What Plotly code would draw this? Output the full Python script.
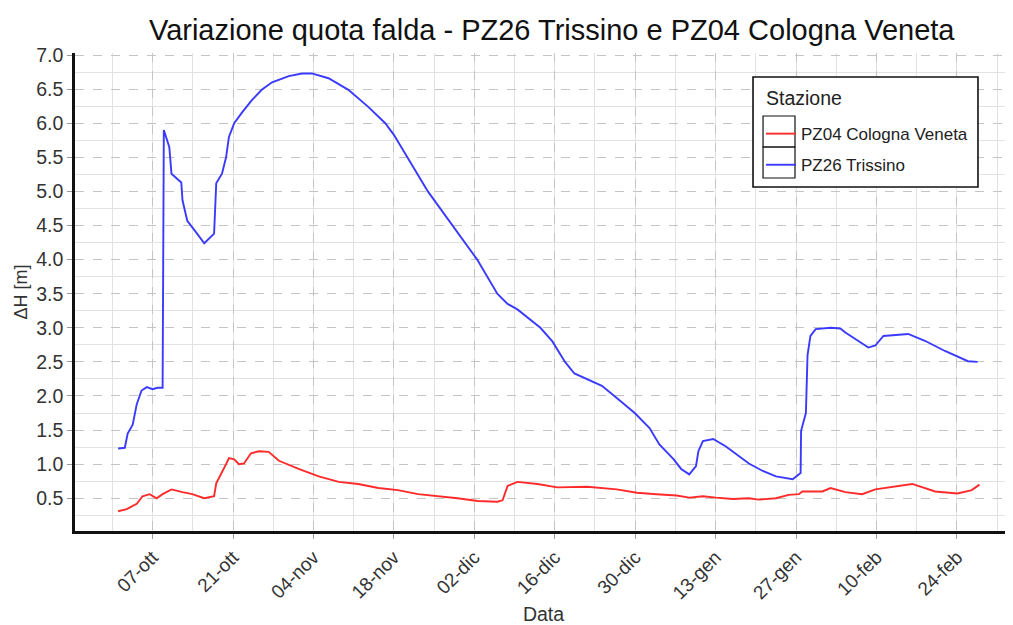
import plotly.graph_objects as go

# ---- data ----
blue_dates = [
    "2023-10-01 00:00", "2023-10-02 04:00", "2023-10-02 16:00", "2023-10-03 13:00", "2023-10-04 06:00",
    "2023-10-05 02:00", "2023-10-06 00:00", "2023-10-07 00:00", "2023-10-07 21:00", "2023-10-08 18:00",
    "2023-10-08 23:00", "2023-10-09 22:00", "2023-10-10 07:00", "2023-10-12 00:00", "2023-10-12 05:00",
    "2023-10-13 01:00", "2023-10-14 14:00", "2023-10-15 16:00", "2023-10-16 00:00", "2023-10-17 17:00",
    "2023-10-18 02:00", "2023-10-19 02:00", "2023-10-19 19:00", "2023-10-20 07:00", "2023-10-21 05:00",
    "2023-10-22 14:00", "2023-10-24 07:00", "2023-10-26 00:00", "2023-10-27 19:00", "2023-10-30 17:00",
    "2023-11-02 00:00", "2023-11-03 17:00", "2023-11-06 15:00", "2023-11-10 02:00", "2023-11-13 13:00",
    "2023-11-16 12:00", "2023-11-18 00:00", "2023-11-23 22:00", "2023-11-28 05:00", "2023-12-02 12:00",
    "2023-12-06 00:00", "2023-12-07 19:00", "2023-12-09 12:00", "2023-12-11 05:00", "2023-12-13 12:00",
    "2023-12-15 14:00", "2023-12-17 19:00", "2023-12-19 10:00", "2023-12-21 15:00", "2023-12-24 05:00",
    "2023-12-26 19:00", "2023-12-29 22:00", "2024-01-01 12:00", "2024-01-03 05:00", "2024-01-05 17:00",
    "2024-01-07 00:00", "2024-01-08 10:00", "2024-01-09 14:00", "2024-01-10 00:00", "2024-01-10 19:00",
    "2024-01-12 14:00", "2024-01-14 19:00", "2024-01-18 19:00", "2024-01-21 05:00", "2024-01-23 12:00",
    "2024-01-26 10:00", "2024-01-27 19:00", "2024-01-27 21:00", "2024-01-28 17:00", "2024-01-29 00:00",
    "2024-01-29 12:00", "2024-01-30 10:00", "2024-02-02 00:00", "2024-02-03 17:00", "2024-02-04 14:00",
    "2024-02-08 14:00", "2024-02-09 19:00", "2024-02-11 05:00", "2024-02-15 12:00", "2024-02-18 10:00",
    "2024-02-21 22:00", "2024-02-25 22:00", "2024-02-27 14:00",
]
blue_values = [
    1.23, 1.24, 1.45, 1.58, 1.88,
    2.08, 2.13, 2.10, 2.12, 2.12,
    5.90, 5.65, 5.26, 5.13, 4.87,
    4.57, 4.40, 4.28, 4.24, 4.38,
    5.12, 5.26, 5.50, 5.80, 6.00,
    6.16, 6.34, 6.49, 6.60, 6.69,
    6.73, 6.73, 6.66, 6.49, 6.24,
    6.00, 5.83, 5.00, 4.50, 4.00,
    3.50, 3.35, 3.27, 3.15, 3.00,
    2.80, 2.50, 2.33, 2.25, 2.15,
    1.97, 1.75, 1.53, 1.29, 1.07,
    0.93, 0.85, 0.97, 1.19, 1.34,
    1.37, 1.26, 1.01, 0.90, 0.82,
    0.78, 0.87, 1.49, 1.75, 2.60,
    2.88, 2.98, 3.00, 2.99, 2.93,
    2.71, 2.74, 2.88, 2.91, 2.81,
    2.66, 2.51, 2.50,
]

red_dates = [
    "2023-10-01 00:00", "2023-10-02 12:00", "2023-10-04 06:00", "2023-10-05 06:00", "2023-10-06 12:00",
    "2023-10-07 17:00", "2023-10-08 18:00", "2023-10-10 07:00", "2023-10-12 05:00", "2023-10-13 22:00",
    "2023-10-16 00:00", "2023-10-17 17:00", "2023-10-18 02:00", "2023-10-18 22:00", "2023-10-19 19:00",
    "2023-10-20 07:00", "2023-10-21 05:00", "2023-10-22 01:00", "2023-10-22 22:00", "2023-10-24 03:00",
    "2023-10-25 12:00", "2023-10-27 05:00", "2023-10-29 00:00", "2023-11-01 10:00", "2023-11-04 22:00",
    "2023-11-08 10:00", "2023-11-11 19:00", "2023-11-15 07:00", "2023-11-18 17:00", "2023-11-22 05:00",
    "2023-11-25 17:00", "2023-11-29 02:00", "2023-12-02 14:00", "2023-12-06 00:00", "2023-12-06 22:00",
    "2023-12-07 19:00", "2023-12-09 12:00", "2023-12-13 00:00", "2023-12-16 10:00", "2023-12-21 15:00",
    "2023-12-26 19:00", "2023-12-30 07:00", "2024-01-02 17:00", "2024-01-06 05:00", "2024-01-08 10:00",
    "2024-01-10 19:00", "2024-01-13 02:00", "2024-01-16 00:00", "2024-01-18 19:00", "2024-01-20 12:00",
    "2024-01-23 12:00", "2024-01-25 17:00", "2024-01-27 12:00", "2024-01-28 02:00", "2024-01-31 14:00",
    "2024-02-02 00:00", "2024-02-04 14:00", "2024-02-07 12:00", "2024-02-09 19:00", "2024-02-16 05:00",
    "2024-02-20 05:00", "2024-02-24 02:00", "2024-02-26 14:00", "2024-02-27 22:00",
]
red_values = [
    0.31, 0.34, 0.42, 0.53, 0.56,
    0.50, 0.56, 0.63, 0.59, 0.56,
    0.50, 0.53, 0.72, 0.85, 1.00,
    1.09, 1.07, 1.00, 1.01, 1.16,
    1.19, 1.18, 1.05, 0.93, 0.82,
    0.74, 0.71, 0.65, 0.62, 0.56,
    0.53, 0.50, 0.46, 0.45, 0.47,
    0.68, 0.74, 0.71, 0.66, 0.67,
    0.63, 0.58, 0.56, 0.54, 0.51,
    0.53, 0.51, 0.49, 0.50, 0.48,
    0.50, 0.55, 0.56, 0.60, 0.60,
    0.65, 0.59, 0.56, 0.63, 0.71,
    0.60, 0.57, 0.62, 0.70,
]

x_tick_vals = ["2023-10-07", "2023-10-21", "2023-11-04", "2023-11-18", "2023-12-02",
               "2023-12-16", "2023-12-30", "2024-01-13", "2024-01-27", "2024-02-10", "2024-02-24"]
x_tick_text = ["07-ott", "21-ott", "04-nov", "18-nov", "02-dic",
               "16-dic", "30-dic", "13-gen", "27-gen", "10-feb", "24-feb"]

series_names = ["PZ04 Cologna Veneta", "PZ26 Trissino"]
legend_title = "Stazione"

# ---- figure ----
fig = go.Figure()
fig.add_trace(go.Scatter(x=red_dates, y=red_values, mode="lines", name=series_names[0],
                         legendgroup="a", line=dict(color="#ff2a2a", width=1.9)))
fig.add_trace(go.Scatter(x=blue_dates, y=blue_values, mode="lines", name=series_names[1],
                         legendgroup="b", line=dict(color="#3a3aff", width=1.9)))

font_family = "Liberation Sans, Arial, sans-serif"
DAY = 86400000

# legend frame and key boxes (ggplot-style), drawn as paper shapes
legend_shapes = [
    dict(type="rect", xref="paper", yref="paper", x0=0.7236, x1=0.9637, y0=0.7197, y1=0.9498,
         line=dict(color="#111111", width=1.6), fillcolor="white", layer="above"),
    dict(type="rect", xref="paper", yref="paper", x0=0.7343, x1=0.7684, y0=0.8033, y1=0.8682,
         line=dict(color="#111111", width=1.2), fillcolor="rgba(0,0,0,0)", layer="above"),
    dict(type="rect", xref="paper", yref="paper", x0=0.7343, x1=0.7684, y0=0.7385, y1=0.8033,
         line=dict(color="#111111", width=1.2), fillcolor="rgba(0,0,0,0)", layer="above"),
]

fig.update_layout(
    width=1005, height=617,
    margin=dict(l=67, r=1, t=45, b=94),
    paper_bgcolor="white", plot_bgcolor="white",
    font=dict(family=font_family, color="#333333"),
    title=dict(text="Variazione quota falda - PZ26 Trissino e PZ04 Cologna Veneta",
               x=0.541, xanchor="center", y=0.965, yanchor="middle",
               font=dict(size=29, color="#111111", family=font_family)),
    legend=dict(
        x=0.7321, y=0.868, xanchor="left", yanchor="top",
        bgcolor="rgba(0,0,0,0)", borderwidth=0,
        font=dict(size=17, color="#222222"),
        tracegroupgap=6,
    ),
    shapes=legend_shapes,
    annotations=[dict(text=legend_title, xref="paper", yref="paper", x=0.7353, y=0.905,
                      xanchor="left", yanchor="middle", showarrow=False,
                      font=dict(size=19.5, color="#222222", family=font_family))],
    showlegend=True,
)

fig.update_xaxes(
    type="date",
    range=["2023-09-23 12:00", "2024-03-04 14:00"],
    tickmode="array", tickvals=x_tick_vals, ticktext=x_tick_text,
    tickangle=-45, tickfont=dict(size=19, color="#333333"),
    ticks="outside", ticklen=5, tickcolor="#9a9a9a",
    showgrid=True, gridcolor="#c4c4c4", griddash="dash", gridwidth=1,
    minor=dict(tick0="2023-09-30", dtick=7 * DAY, showgrid=True,
               gridcolor="#e2e2e2", griddash="solid", gridwidth=1),
    showline=True, linecolor="#111111", linewidth=2.5,
    zeroline=False,
    title=dict(text="Data", font=dict(size=19.5, color="#333333"), standoff=6),
)
fig.update_yaxes(
    range=[0.02, 7.03],
    tick0=0, dtick=0.5, tickformat=".1f",
    tickfont=dict(size=19.5, color="#333333"),
    ticks="outside", ticklen=5, tickcolor="#9a9a9a",
    showgrid=True, gridcolor="#c4c4c4", griddash="dash", gridwidth=1,
    minor=dict(tick0=0.25, dtick=0.5, showgrid=True,
               gridcolor="#e2e2e2", griddash="solid", gridwidth=1),
    showline=True, linecolor="#111111", linewidth=2.5,
    zeroline=False,
    title=dict(text="ΔH [m]", font=dict(size=18, color="#333333"), standoff=4),
)

fig.write_html("out.html")
